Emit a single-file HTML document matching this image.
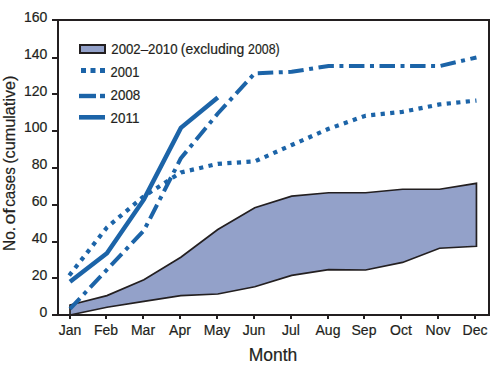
<!DOCTYPE html>
<html><head><meta charset="utf-8"><style>
html,body{margin:0;padding:0;background:#fff;width:503px;height:365px;overflow:hidden}
svg{display:block}
.t{font-family:"Liberation Sans",sans-serif;font-size:14px;fill:#231f20;stroke:#231f20;stroke-width:0.2px}
.big{font-family:"Liberation Sans",sans-serif;font-size:16px;fill:#231f20;stroke:#231f20;stroke-width:0.2px}
</style></head><body>
<svg width="503" height="365" viewBox="0 0 503 365">
<polygon points="70.00,305.04 106.95,295.64 143.90,279.78 180.85,257.29 217.80,229.45 254.75,207.69 291.70,196.08 328.65,192.76 365.60,192.76 402.55,189.26 439.50,189.26 476.45,183.36 476.45,246.23 439.50,248.26 402.55,262.45 365.60,270.01 328.65,269.64 291.70,275.36 254.75,286.79 217.80,293.98 180.85,295.64 143.90,301.36 106.95,307.26 70.00,315.00" fill="#93a1c9" stroke="#231f20" stroke-width="1.7" stroke-linejoin="miter"/>
<rect x="57" y="19" width="2" height="297" fill="#231f20"/>
<rect x="52" y="19" width="438" height="2" fill="#231f20"/>
<rect x="52" y="314" width="438" height="2" fill="#231f20"/>
<rect x="488" y="19" width="2" height="297" fill="#231f20"/>
<rect x="52" y="19" width="6" height="2" fill="#231f20"/>
<text x="47.4" y="21.80" text-anchor="end" class="t">160</text>
<rect x="52" y="57" width="6" height="2" fill="#231f20"/>
<text x="47.4" y="58.68" text-anchor="end" class="t">140</text>
<rect x="52" y="93" width="6" height="2" fill="#231f20"/>
<text x="47.4" y="95.55" text-anchor="end" class="t">120</text>
<rect x="52" y="130" width="6" height="2" fill="#231f20"/>
<text x="47.4" y="132.43" text-anchor="end" class="t">100</text>
<rect x="52" y="167" width="6" height="2" fill="#231f20"/>
<text x="47.4" y="169.30" text-anchor="end" class="t">80</text>
<rect x="52" y="204" width="6" height="2" fill="#231f20"/>
<text x="47.4" y="206.18" text-anchor="end" class="t">60</text>
<rect x="52" y="241" width="6" height="2" fill="#231f20"/>
<text x="47.4" y="243.05" text-anchor="end" class="t">40</text>
<rect x="52" y="277" width="6" height="2" fill="#231f20"/>
<text x="47.4" y="279.93" text-anchor="end" class="t">20</text>
<rect x="52" y="314" width="6" height="2" fill="#231f20"/>
<text x="47.4" y="316.80" text-anchor="end" class="t">0</text>
<rect x="69" y="315" width="2" height="4" fill="#231f20"/>
<text x="70" y="335.4" text-anchor="middle" class="t">Jan</text>
<rect x="105" y="315" width="2" height="4" fill="#231f20"/>
<text x="106" y="335.4" text-anchor="middle" class="t">Feb</text>
<rect x="142" y="315" width="2" height="4" fill="#231f20"/>
<text x="143" y="335.4" text-anchor="middle" class="t">Mar</text>
<rect x="179" y="315" width="2" height="4" fill="#231f20"/>
<text x="180" y="335.4" text-anchor="middle" class="t">Apr</text>
<rect x="216" y="315" width="2" height="4" fill="#231f20"/>
<text x="217" y="335.4" text-anchor="middle" class="t">May</text>
<rect x="253" y="315" width="2" height="4" fill="#231f20"/>
<text x="254" y="335.4" text-anchor="middle" class="t">Jun</text>
<rect x="290" y="315" width="2" height="4" fill="#231f20"/>
<text x="291" y="335.4" text-anchor="middle" class="t">Jul</text>
<rect x="327" y="315" width="2" height="4" fill="#231f20"/>
<text x="328" y="335.4" text-anchor="middle" class="t">Aug</text>
<rect x="363" y="315" width="2" height="4" fill="#231f20"/>
<text x="364" y="335.4" text-anchor="middle" class="t">Sep</text>
<rect x="400" y="315" width="2" height="4" fill="#231f20"/>
<text x="401" y="335.4" text-anchor="middle" class="t">Oct</text>
<rect x="437" y="315" width="2" height="4" fill="#231f20"/>
<text x="438" y="335.4" text-anchor="middle" class="t">Nov</text>
<rect x="474" y="315" width="2" height="4" fill="#231f20"/>
<text x="475" y="335.4" text-anchor="middle" class="t">Dec</text>
<text x="273" y="360.7" text-anchor="middle" class="big" style="font-size:17.5px">Month</text>
<text transform="translate(15.0,239.00) rotate(-90)" x="0" y="0" text-anchor="middle" class="big" textLength="24.1" lengthAdjust="spacingAndGlyphs">No.</text>
<text transform="translate(15.0,216.40) rotate(-90)" x="0" y="0" text-anchor="middle" class="big" textLength="16.2" lengthAdjust="spacingAndGlyphs">of</text>
<text transform="translate(15.0,187.05) rotate(-90)" x="0" y="0" text-anchor="middle" class="big" textLength="39.5" lengthAdjust="spacingAndGlyphs">cases</text>
<text transform="translate(15.0,119.65) rotate(-90)" x="0" y="0" text-anchor="middle" class="big" textLength="88.3" lengthAdjust="spacingAndGlyphs">(cumulative)</text>
<polyline points="69.20,275.46 70.00,274.44 106.95,227.42 143.90,196.26 180.85,172.48 217.80,163.81 254.75,161.42 291.70,145.01 328.65,128.78 365.60,115.69 402.55,111.82 439.50,104.44 476.45,100.57" fill="none" stroke="#1c64a8" stroke-width="4.2" stroke-dasharray="4.2 5.365"/>
<polyline points="70.00,308.92 106.95,269.64 143.90,230.56 180.85,158.28 217.80,113.48 254.75,73.28 291.70,71.81 328.65,65.91 365.60,65.91 402.55,65.91 439.50,66.09 476.45,57.43" fill="none" stroke="#1c64a8" stroke-width="4" stroke-dasharray="15.5 5.53 4 5.53" stroke-dashoffset="1.03" stroke-linejoin="round"/>
<polyline points="70.00,281.81 106.95,253.23 143.90,199.40 180.85,127.86 217.80,97.44" fill="none" stroke="#1c64a8" stroke-width="4.5"/>
<rect x="80" y="45" width="25" height="8" fill="#93a1c9" stroke="#231f20" stroke-width="2"/>
<rect x="81" y="68" width="5" height="5" fill="#1c64a8"/>
<rect x="90.5" y="68" width="5" height="5" fill="#1c64a8"/>
<rect x="100" y="68" width="5" height="5" fill="#1c64a8"/>
<rect x="79" y="93.8" width="17" height="4.4" fill="#1c64a8"/>
<rect x="100" y="93.8" width="5" height="4.4" fill="#1c64a8"/>
<rect x="79" y="115" width="26" height="4.6" fill="#1c64a8"/>
<text x="144.40" y="53.6" text-anchor="middle" class="t" textLength="66.20" lengthAdjust="spacingAndGlyphs">2002–2010</text>
<text x="212.55" y="53.6" text-anchor="middle" class="t" textLength="63.50" lengthAdjust="spacingAndGlyphs">(excluding</text>
<text x="263.90" y="53.6" text-anchor="middle" class="t" textLength="31.60" lengthAdjust="spacingAndGlyphs">2008)</text>
<text x="125.00" y="76.6" text-anchor="middle" class="t" textLength="28.80" lengthAdjust="spacingAndGlyphs">2001</text>
<text x="125.45" y="99.7" text-anchor="middle" class="t" textLength="29.70" lengthAdjust="spacingAndGlyphs">2008</text>
<text x="125.00" y="122.6" text-anchor="middle" class="t" textLength="28.80" lengthAdjust="spacingAndGlyphs">2011</text>
</svg>
</body></html>
